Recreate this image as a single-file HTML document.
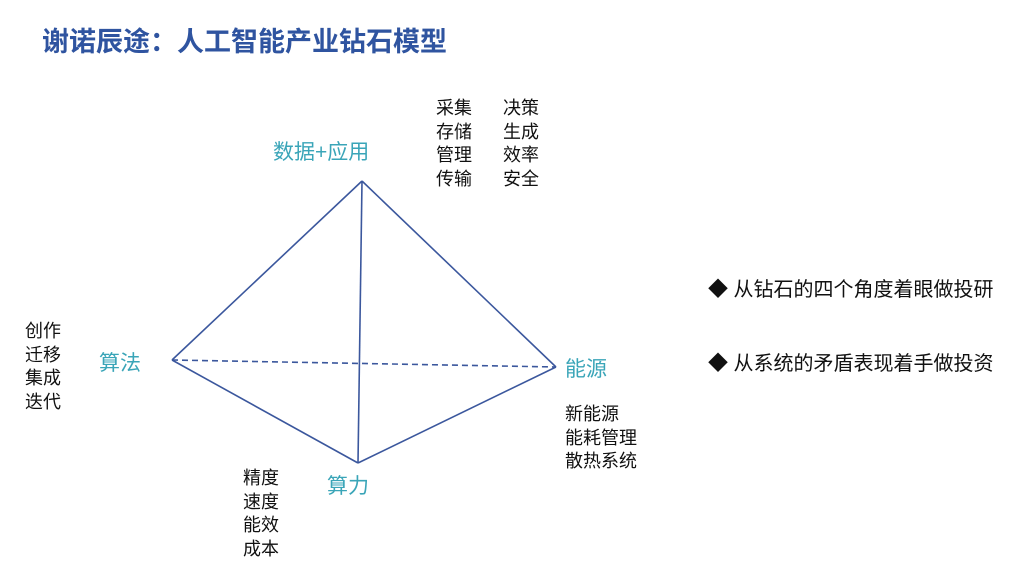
<!DOCTYPE html>
<html><head><meta charset="utf-8"><style>
body{margin:0;width:1024px;height:568px;background:#fff;position:relative;overflow:hidden;font-family:"Liberation Sans","Noto Sans CJK SC",sans-serif}
.t{position:absolute;white-space:nowrap}
.s{font-size:18px;line-height:23.5px;color:#111}
.l{font-size:21px;color:#3aa5b8}
</style></head><body>
<div class="t" style="left:42px;top:20px;font-size:27px;font-weight:bold;color:#2f54a0">谢诺辰途：人工智能产业钻石模型</div>
<svg width="1024" height="568" style="position:absolute;left:0;top:0">
<g stroke="#3b579d" stroke-width="1.6" fill="none">
<line x1="362" y1="181" x2="172" y2="360"/>
<line x1="362" y1="181" x2="556" y2="367"/>
<line x1="362" y1="181" x2="358" y2="463"/>
<line x1="172" y1="360" x2="358" y2="463"/>
<line x1="556" y1="367" x2="358" y2="463"/>
<line x1="172" y1="360" x2="556" y2="367" stroke-dasharray="6,4"/>
</g></svg>
<div class="t l" style="left:273px;top:136px">数据+应用</div>
<div class="t l" style="left:99px;top:347px">算法</div>
<div class="t l" style="left:565px;top:353px">能源</div>
<div class="t l" style="left:327px;top:470px">算力</div>
<div class="t s" style="left:436px;top:97px">采集<br>存储<br>管理<br>传输</div>
<div class="t s" style="left:503px;top:97px">决策<br>生成<br>效率<br>安全</div>
<div class="t s" style="left:25px;top:320px">创作<br>迁移<br>集成<br>迭代</div>
<div class="t s" style="left:565px;top:403px">新能源<br>能耗管理<br>散热系统</div>
<div class="t s" style="left:243px;top:467px">精度<br>速度<br>能效<br>成本</div>
<div class="t" style="left:708px;top:273px;font-size:20px;color:#111">◆ 从钻石的四个角度着眼做投研</div>
<div class="t" style="left:708px;top:347px;font-size:20px;color:#111">◆ 从系统的矛盾表现着手做投资</div>
</body></html>
